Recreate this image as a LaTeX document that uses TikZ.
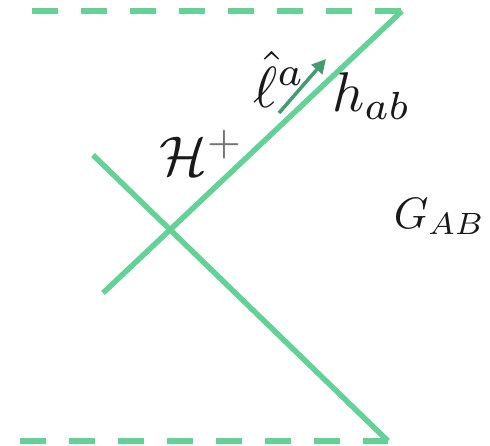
\documentclass[tikz,border=0pt]{standalone}
\usetikzlibrary{arrows.meta}
\definecolor{lgreen}{RGB}{100,210,150}
\definecolor{dgreen}{RGB}{70,155,110}
\tikzset{
  world/.style={draw=lgreen, line width=5.5pt},
  bound/.style={draw=lgreen, line width=6pt, dash pattern=on 26pt off 23pt},
  vec/.style={draw=dgreen, line width=3.5pt, -{Triangle[length=14pt,width=14pt]}},
  lab/.style={inner sep=0pt, anchor=base west, text=black!90}
}
\begin{document}
\begin{tikzpicture}[x=1pt,y=-1pt]
\useasboundingbox (0,0) rectangle (490,445);
\coordinate (tl) at (32,11);
\coordinate (tr) at (402,11);
\coordinate (bl) at (20,441);
\coordinate (br) at (388,441);
\coordinate (a1) at (103,293);
\coordinate (b1) at (93,155);
\draw[bound] (tl) -- (tr);
\draw[bound] (bl) -- (br);
\draw[world, line join=miter] (tr) -- (a1);
\draw[world] (b1) -- (br);
\coordinate (v0) at (279,113);
\coordinate (v1) at (326,59);
\draw[vec] (v0) -- (v1);
\node[lab, scale=5.8] (ell) at (252,107) {$\hat\ell^a$};
\node[lab, scale=5.6] (h) at (331,111) {$h_{ab}$};
\node[lab, scale=5.6] (H) at (158,175) {$\mathcal{H}^{\textcolor{black!55}{+}}$};
\node[lab, scale=4.4] (G) at (393,228) {$G_{AB}$};
\end{tikzpicture}
\end{document}
